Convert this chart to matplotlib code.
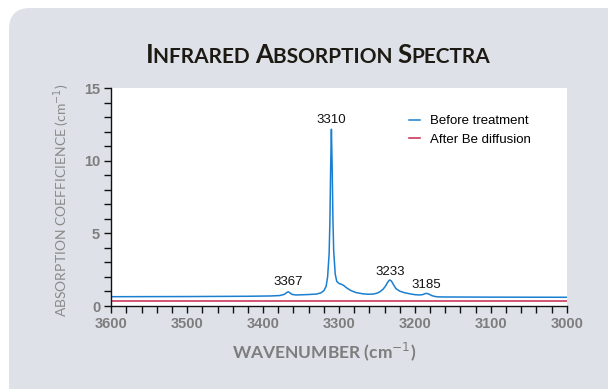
import matplotlib
matplotlib.use("Agg")
import matplotlib.pyplot as plt
from matplotlib.patches import FancyBboxPatch
from matplotlib.ticker import MultipleLocator

# spectrum: wavenumber (cm-1) vs absorption coefficient (cm-1)
wavenumber = [3600, 3500, 3420, 3390, 3378, 3372, 3369, 3367, 3365, 3362, 3357, 3350,
              3340, 3330, 3324, 3320, 3317, 3315, 3313, 3312, 3311, 3310, 3309, 3308,
              3307, 3305, 3303, 3300, 3297, 3294, 3290, 3285, 3278, 3270, 3262, 3255,
              3250, 3246, 3242, 3239, 3236, 3234, 3233, 3231, 3228, 3225, 3220, 3214,
              3207, 3200, 3194, 3190, 3187, 3185, 3182, 3178, 3174, 3170, 3160, 3100, 3000]
before = [0.64, 0.65, 0.67, 0.69, 0.72, 0.80, 0.92, 0.98, 0.92, 0.80, 0.76, 0.77,
          0.79, 0.82, 0.90, 1.05, 1.35, 2.0, 3.6, 5.8, 9.5, 12.16, 9.5, 6.0,
          3.8, 2.2, 1.7, 1.55, 1.5, 1.42, 1.25, 1.08, 0.93, 0.85, 0.81, 0.82,
          0.88, 0.98, 1.15, 1.35, 1.62, 1.76, 1.79, 1.72, 1.45, 1.2, 1.02, 0.92,
          0.84, 0.78, 0.76, 0.78, 0.84, 0.87, 0.83, 0.72, 0.66, 0.63, 0.62, 0.61, 0.60]
after_wn = [3600, 3000]
after = [0.36, 0.36]

peak_labels = ["3367", "3310", "3233", "3185"]
peak_pos = [3367, 3310, 3233, 3185]
peak_text_y = [1.67, 12.8, 2.36, 1.45]

blue = "#1a7fd0"
red = "#c8264e"
gray = "#7d7d7d"
card = "#dee1e8"

fig = plt.figure(figsize=(6.08, 3.89), dpi=100)
fig.patch.set_facecolor("white")

# rounded grey card behind everything
W, H = 608.0, 389.0
box = FancyBboxPatch((9 / W, -0.1), 1.1, (H - 8) / H + 0.1,
                     boxstyle="round,pad=0,rounding_size=0.035",
                     transform=fig.transFigure, facecolor=card, edgecolor="none",
                     zorder=-5, mutation_aspect=W / H)
fig.patches.append(box)

ax = fig.add_axes([111.3 / W, 1 - 306 / H, 455.4 / W, 218 / H])
ax.set_zorder(2)
ax.set_facecolor("white")

ax.plot(wavenumber, before, color=blue, lw=1.1, label="Before treatment")
ax.plot(after_wn, after, color=red, lw=1.1, label="After Be diffusion")

for lab, x, y in zip(peak_labels, peak_pos, peak_text_y):
    ax.text(x, y, lab, ha="center", va="center", fontsize=9.5,
            family=["Liberation Sans", "DejaVu Sans"], color="#111111")

ax.set_xlim(3600, 3000)
ax.set_ylim(0, 15)
ax.xaxis.set_major_locator(MultipleLocator(100))
ax.xaxis.set_minor_locator(MultipleLocator(20))
ax.yaxis.set_major_locator(MultipleLocator(5))
ax.yaxis.set_minor_locator(MultipleLocator(1))

for s in ["top", "right"]:
    ax.spines[s].set_visible(False)
for s in ["left", "bottom"]:
    ax.spines[s].set_linewidth(1.0)
    ax.spines[s].set_color("#111111")

ax.tick_params(which="both", direction="out", color="#111111", width=1.0)
ax.tick_params(which="major", length=5, pad=3)
ax.tick_params(which="minor", length=5)
for t in ax.get_xticklabels() + ax.get_yticklabels():
    t.set_family(["Liberation Sans Narrow", "Liberation Sans", "DejaVu Sans"])
    t.set_fontweight("bold")
    t.set_fontsize(10.5)
    t.set_color(gray)

leg = ax.legend(loc="upper left", bbox_to_anchor=(0.627, 0.93), frameon=False,
                handlelength=0.85, handletextpad=0.75, labelspacing=0.45,
                prop={"family": ["Liberation Sans", "DejaVu Sans"], "size": 9.5})

# axis labels
fig.text(62 / W, 1 - 200 / H, "ABSORPTION COEFFICIENCE (cm$^{-1}$)", rotation=90,
         ha="center", va="center", fontsize=10, color="#8a8a8a",
         family=["Lato", "DejaVu Sans"])
fig.text(324 / W, 1 - 352 / H, "WAVENUMBER (cm$^{-1}$)", ha="center", va="center",
         fontsize=12.5, color=gray, fontweight="bold", family=["Lato", "DejaVu Sans"])

# title in small caps, placed piece by piece
pieces = [("I", 18.5), ("NFRARED ", 15), ("A", 18.5), ("BSORPTION ", 15),
          ("S", 18.5), ("PECTRA", 15)]
renderer = fig.canvas.get_renderer()
texts = []
for s, size in pieces:
    t = fig.text(0, 1 - 63 / H, s, fontsize=size, fontweight="bold", color="#1c1a12",
                 family=["Lato", "DejaVu Sans"], va="baseline", ha="left")
    texts.append(t)
widths = [t.get_window_extent(renderer).width for t in texts]
x = 318 - sum(widths) / 2
for t, w in zip(texts, widths):
    t.set_x(x / W)
    x += w

fig.savefig("out.png", dpi=100, facecolor=fig.get_facecolor())
